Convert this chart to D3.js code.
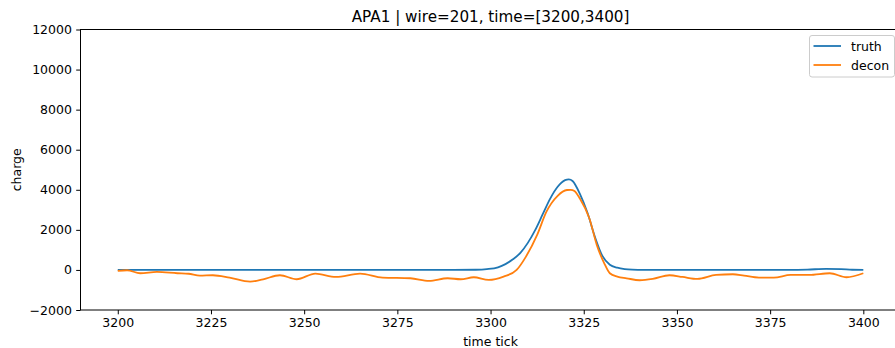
<!DOCTYPE html>
<html>
<head>
<meta charset="utf-8">
<script src="https://cdn.jsdelivr.net/npm/d3@7"></script>
<style>
  body { margin: 0; background: #fff; }
  text { font-family: "DejaVu Sans", sans-serif; fill: #000; }
</style>
</head>
<body>
<div id="chart"></div>
<script>
// data
var titleText = "APA1 | wire=201, time=[3200,3400]";
var xTicks = [3200, 3225, 3250, 3275, 3300, 3325, 3350, 3375, 3400];
var yTicks = [-2000, 0, 2000, 4000, 6000, 8000, 10000, 12000];

var truthTicks  = [3200, 3250, 3290, 3296, 3299, 3302, 3304, 3306, 3308, 3310, 3312, 3314, 3316, 3318, 3320, 3321, 3322, 3324, 3326, 3328, 3330, 3332, 3334, 3336, 3338, 3341, 3360, 3380, 3385, 3390, 3394, 3397, 3400];
var truthValues = [0, 0, 0, 10, 40, 130, 290, 530, 850, 1350, 2000, 2780, 3560, 4150, 4480, 4520, 4440, 3780, 2850, 1650, 700, 260, 110, 40, 12, 0, 0, 0, 15, 55, 40, 10, 0];

var deconTicks  = [3200, 3202.5, 3206, 3210.5, 3216, 3219, 3222, 3225.5, 3230, 3235.5, 3239, 3243.5, 3248, 3253, 3258.5, 3265, 3271, 3278.5, 3283.5, 3288.5, 3292, 3295.5, 3299.5, 3303.5, 3307, 3309.5, 3312.5, 3315, 3318, 3320.5, 3321.5, 3322.5, 3324, 3326.5, 3328.5, 3330.5, 3332, 3334, 3336.5, 3340, 3343.5, 3348, 3351.5, 3355.5, 3360.5, 3365, 3368, 3372, 3376, 3380.5, 3385.5, 3391, 3395.5, 3400];
var deconValues = [-50, -15, -165, -100, -165, -190, -283, -266, -383, -582, -466, -266, -466, -183, -350, -183, -383, -416, -550, -416, -466, -366, -500, -333, 0, 665, 1750, 2910, 3700, 3990, 4000, 3940, 3550, 2580, 1250, 330, -166, -333, -416, -515, -450, -266, -350, -450, -250, -216, -283, -383, -383, -250, -250, -166, -366, -166];

var width = 895, height = 348;
var margin = {top: 29.5, left: 80.5, bottom: 310, right: 900.6};
var fs = "12.5px";

var svg = d3.select("#chart")
  .append("svg")
    .attr("width", width)
    .attr("height", height);

var x = d3.scaleLinear().domain([3190, 3410]).range([margin.left, margin.right]);
var y = d3.scaleLinear().domain([-2000, 12000]).range([margin.bottom, margin.top]);

// axes
var xAxis = svg.append("g")
  .attr("transform", "translate(0," + margin.bottom + ")")
  .call(d3.axisBottom(x).tickValues(xTicks).tickFormat(d3.format("d")).tickSize(4.3).tickPadding(4.3));
var yAxis = svg.append("g")
  .attr("transform", "translate(" + margin.left + ",0)")
  .call(d3.axisLeft(y).tickValues(yTicks).tickFormat(function(d) { return d < 0 ? "\u2212" + Math.abs(d) : d; }).tickSize(4.3).tickPadding(4.3));

[xAxis, yAxis].forEach(function(a) {
  a.select(".domain").remove();
  a.selectAll("line").attr("stroke", "#000").attr("stroke-width", 1);
  a.selectAll("text").attr("font-size", fs).attr("font-family", "DejaVu Sans").attr("fill", "#000");
});

// lines
svg.append("clipPath").attr("id", "clip")
  .append("rect")
    .attr("x", margin.left).attr("y", margin.top)
    .attr("width", margin.right - margin.left).attr("height", margin.bottom - margin.top);

var line = d3.line()
  .x(function(d) { return x(d[0]); })
  .y(function(d) { return y(d[1]); })
  .curve(d3.curveMonotoneX);

svg.append("path")
  .datum(d3.zip(truthTicks, truthValues))
  .attr("clip-path", "url(#clip)")
  .attr("fill", "none")
  .attr("stroke", "#1f77b4")
  .attr("stroke-width", 1.8)
  .attr("d", line);

svg.append("path")
  .datum(d3.zip(deconTicks, deconValues))
  .attr("clip-path", "url(#clip)")
  .attr("fill", "none")
  .attr("stroke", "#ff7f0e")
  .attr("stroke-width", 1.8)
  .attr("d", line);

// spines
svg.append("rect")
  .attr("x", margin.left).attr("y", margin.top)
  .attr("width", margin.right - margin.left).attr("height", margin.bottom - margin.top)
  .attr("fill", "none").attr("stroke", "#000").attr("stroke-width", 1);

// title and labels
svg.append("text")
  .attr("x", (margin.left + margin.right) / 2).attr("y", 21.5)
  .attr("text-anchor", "middle").attr("font-size", "15.2px")
  .text(titleText);

svg.append("text")
  .attr("x", (margin.left + margin.right) / 2).attr("y", 346)
  .attr("text-anchor", "middle").attr("font-size", fs)
  .text("time tick");

svg.append("text")
  .attr("transform", "translate(21," + (margin.top + margin.bottom) / 2 + ") rotate(-90)")
  .attr("text-anchor", "middle").attr("font-size", fs)
  .text("charge");

// legend
var legend = svg.append("g");
legend.append("rect")
  .attr("x", 809.5).attr("y", 35.5).attr("width", 85).attr("height", 41.5).attr("rx", 2.5)
  .attr("fill", "#fff").attr("fill-opacity", 0.8)
  .attr("stroke", "#ccc").attr("stroke-width", 1);

var items = [["truth", "#1f77b4"], ["decon", "#ff7f0e"]];
items.forEach(function(it, i) {
  var ly = 46 + i * 19;
  legend.append("line")
    .attr("x1", 813.5).attr("x2", 841).attr("y1", ly).attr("y2", ly)
    .attr("stroke", it[1]).attr("stroke-width", 1.8);
  legend.append("text")
    .attr("x", 851).attr("y", ly + 4.5).attr("font-size", fs)
    .text(it[0]);
});
</script>
</body>
</html>
